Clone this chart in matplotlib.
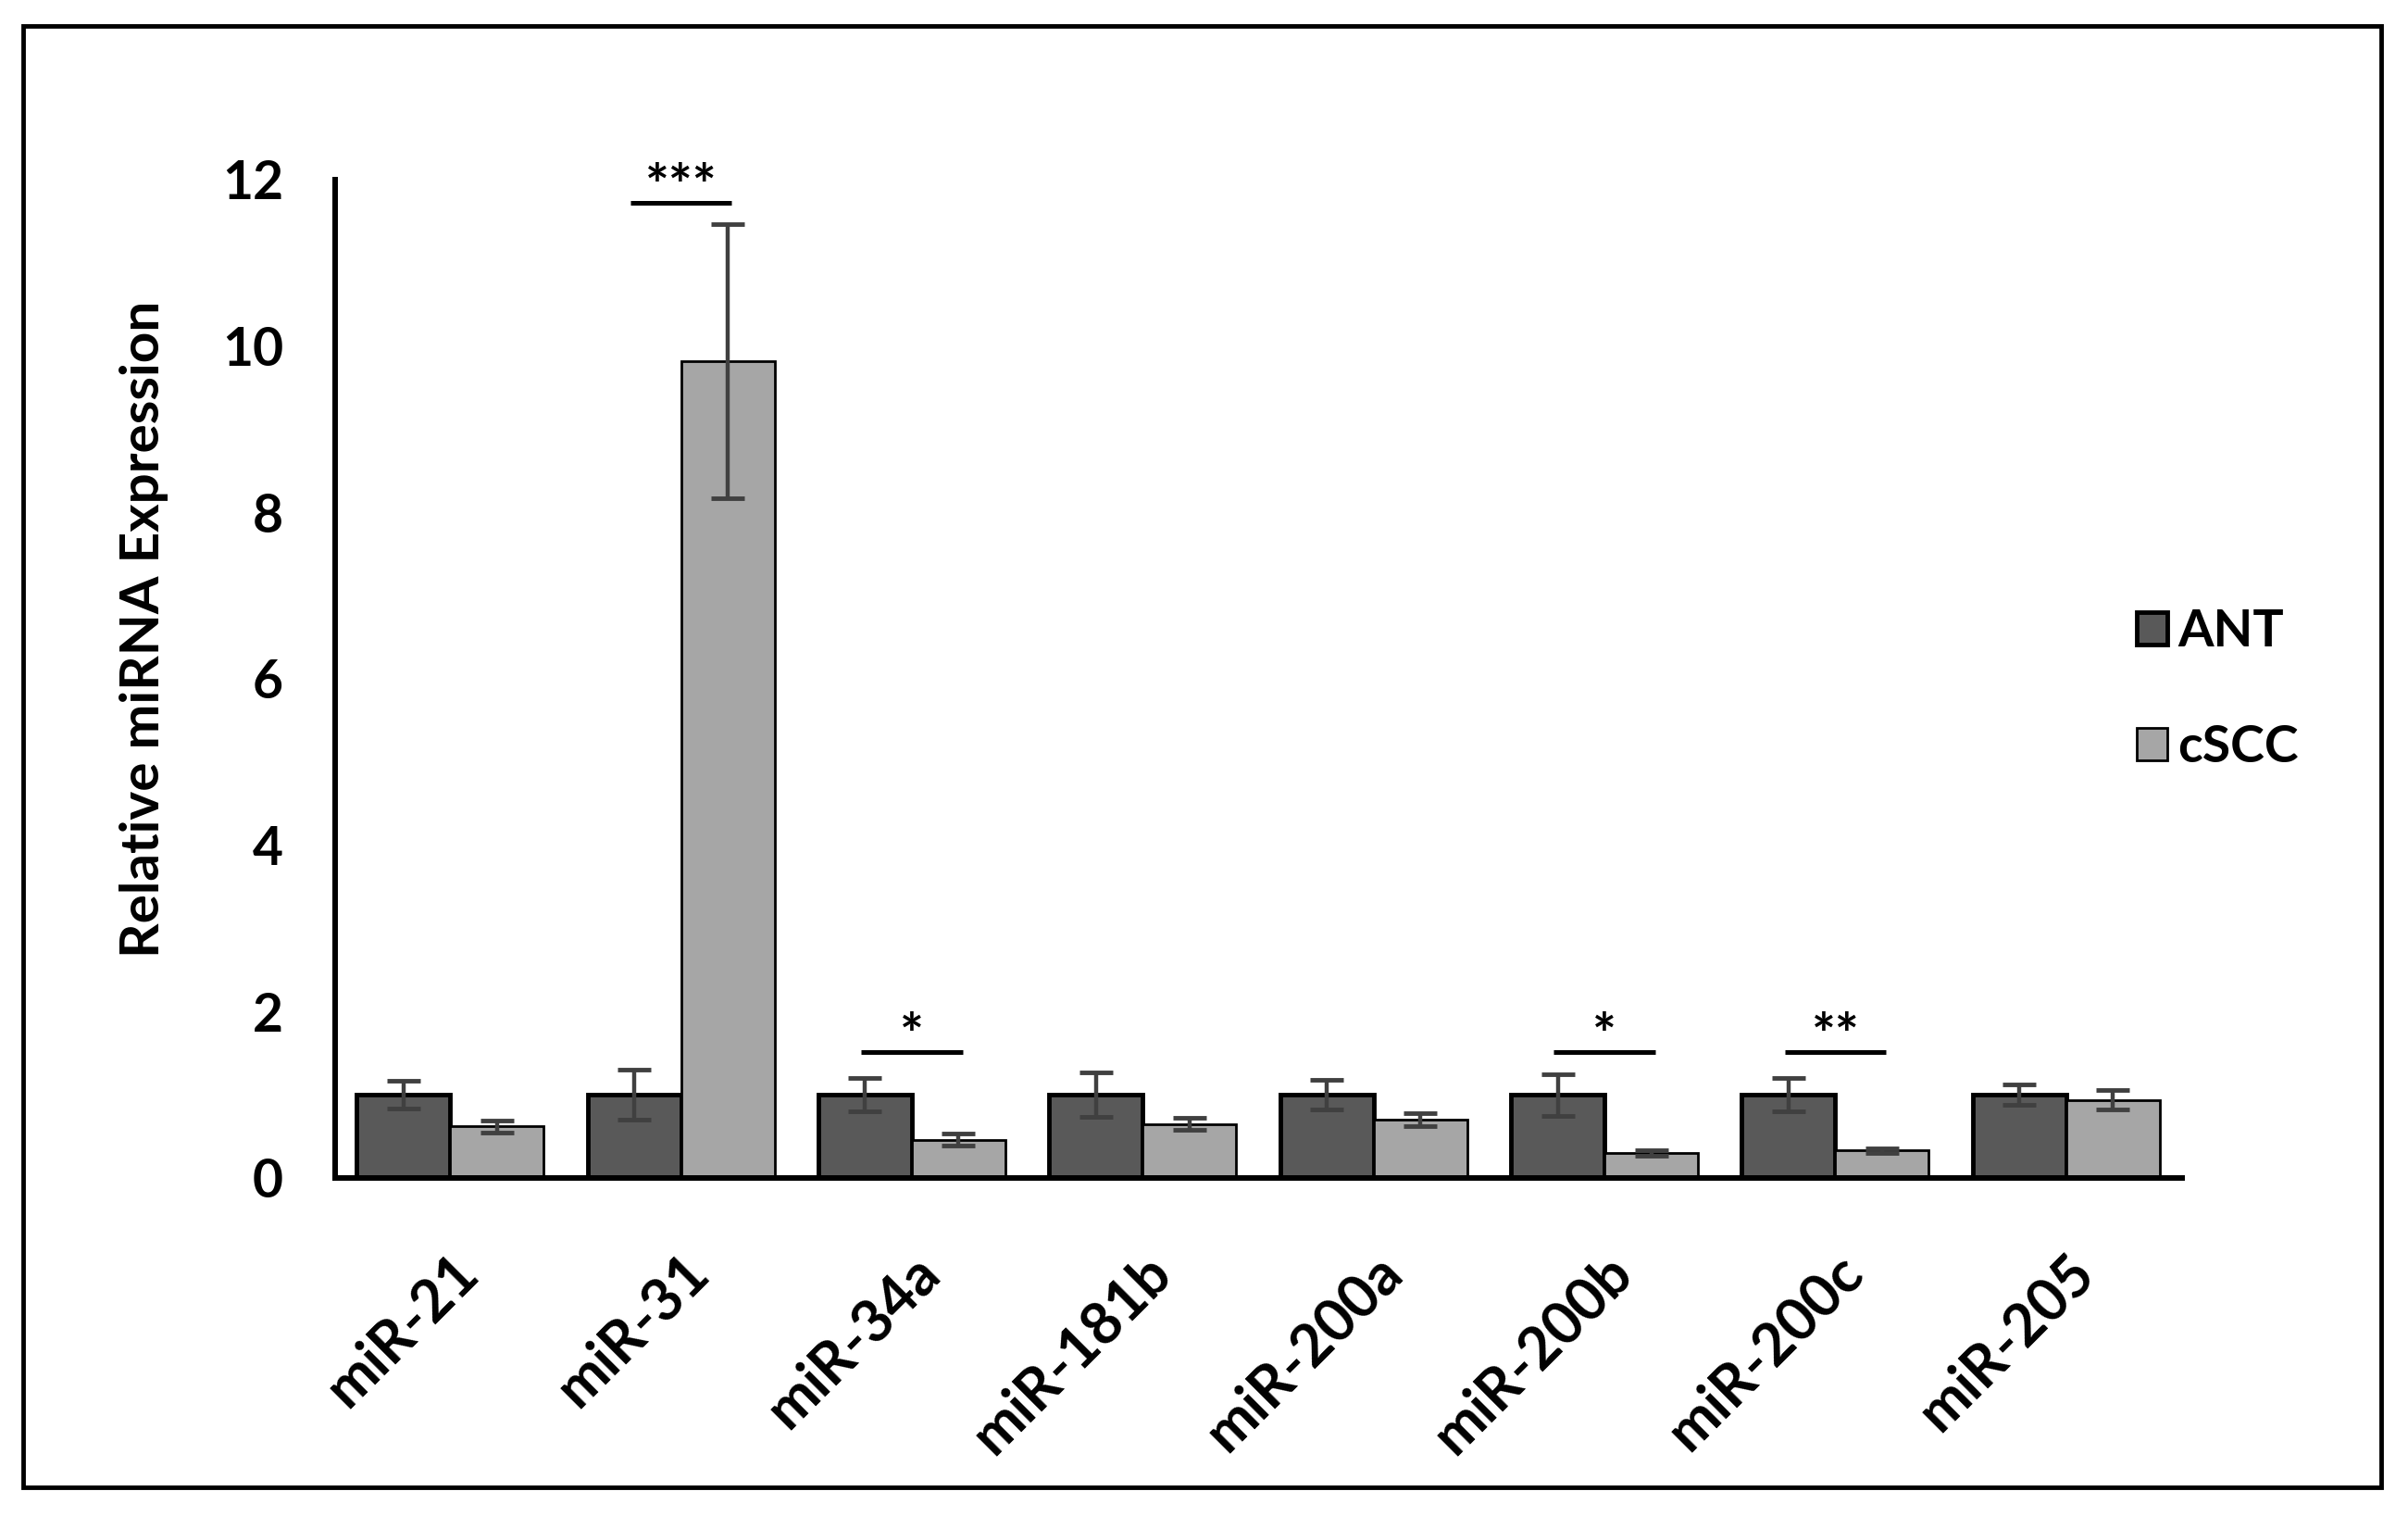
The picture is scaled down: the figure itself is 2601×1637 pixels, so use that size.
import matplotlib
matplotlib.use("Agg")
import matplotlib.pyplot as plt
from matplotlib.patches import Rectangle
import numpy as np

plt.rcParams['font.family'] = ['Lato', 'DejaVu Sans']
plt.rcParams['font.weight'] = 'bold'

# values
categories = ['miR-21', 'miR-31', 'miR-34a', 'miR-181b', 'miR-200a', 'miR-200b', 'miR-200c', 'miR-205']
ant = [1.0, 1.0, 1.0, 1.0, 1.0, 1.0, 1.0, 1.0]
ant_err = [0.17, 0.30, 0.20, 0.27, 0.18, 0.25, 0.20, 0.12]
cscc = [0.62, 9.82, 0.46, 0.65, 0.70, 0.30, 0.33, 0.94]
cscc_err = [0.07, 1.65, 0.07, 0.07, 0.08, 0.03, 0.03, 0.12]
sig_idx = [1, 2, 5, 6]
sig_text = ['***', '*', '*', '**']
sig_y = [11.72, 1.51, 1.51, 1.51]

fig = plt.figure(figsize=(26.01, 16.37), dpi=100)
ax = fig.add_axes([0.139, 0.223, 0.767, 0.6585])

x = np.arange(len(categories))
w = 0.405
errkw = dict(ecolor='#404040', elinewidth=3.2, capsize=13, capthick=3.5)
ax.bar(x - w/2, ant, w, yerr=ant_err, color='#595959', edgecolor='black', linewidth=3.5,
       error_kw=errkw, label='ANT', zorder=2)
ax.bar(x + w/2, cscc, w, yerr=cscc_err, color='#a6a6a6', edgecolor='black', linewidth=2,
       error_kw=errkw, label='cSCC', zorder=2)

# significance brackets
for i, t, y in zip(sig_idx, sig_text, sig_y):
    ax.plot([x[i] - 0.22, x[i] + 0.22], [y, y], color='black', lw=3.6, solid_capstyle='butt')
    ax.text(x[i], y - 0.14, t, ha='center', va='bottom', fontsize=44, fontweight='bold')

ax.set_xlim(-0.5, len(categories) - 0.5)
ax.set_ylim(0, 12)
ax.set_yticks([0, 2, 4, 6, 8, 10, 12])
ax.set_xticks(x)
ax.set_xticklabels(categories, rotation=45, ha='right', rotation_mode='anchor')
ax.tick_params(axis='y', length=0, pad=40, labelsize=41)
ax.tick_params(axis='x', length=0, pad=52, labelsize=45)
for s in ['top', 'right']:
    ax.spines[s].set_visible(False)
for s in ['left', 'bottom']:
    ax.spines[s].set_linewidth(4.3)
ax.set_ylabel('Relative miRNA Expression', fontsize=42, fontweight='bold')
ax.yaxis.set_label_coords(-0.09, 0.55)

fig.legend(loc='center left', bbox_to_anchor=(0.868, 0.545), frameon=False, fontsize=40,
           handlelength=0.6, handleheight=0.6, handletextpad=0.2, labelspacing=1.35)

fig.patches.append(Rectangle((0.0096, 0.019), 0.9794, 0.964, transform=fig.transFigure,
                             fill=False, edgecolor='black', linewidth=3.5))

fig.savefig('out.png', dpi=100)
